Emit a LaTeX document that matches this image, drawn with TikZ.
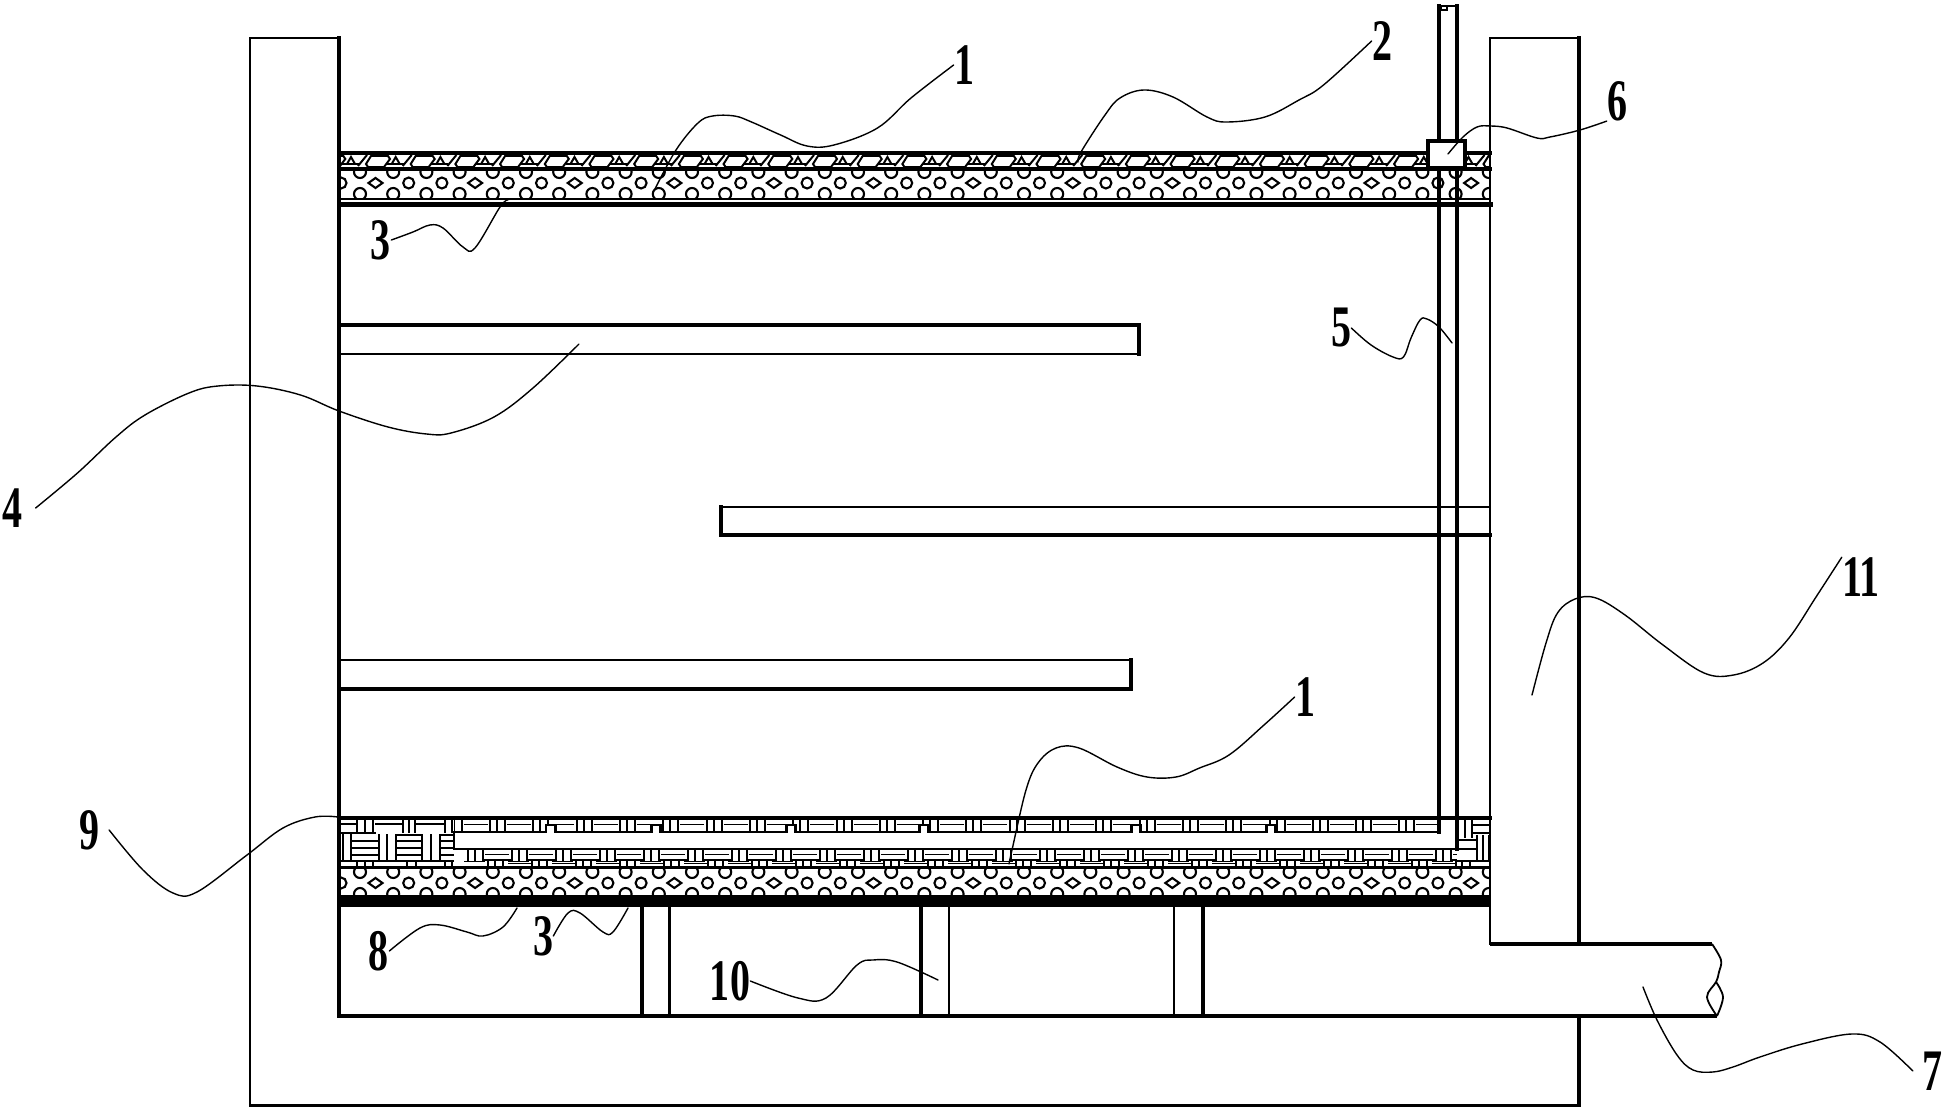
\documentclass[tikz,border=0pt]{standalone}
\usepackage{fontspec}
\usepackage{graphicx}
\setmainfont{Liberation Serif}
\tikzset{
  x=0.02cm,y=-0.02cm,
  px/.style={line width=#1*0.567pt},
  wall/.style={draw=black,line cap=rect},
  hatch/.style={draw=black,px=2.1},
  hatchb/.style={draw=black,px=2},
  leader/.style={draw=black,px=1.4,line cap=round,line join=round},
  lab/.style={inner sep=0pt,font=\fontsize{33.5}{34}\selectfont\bfseries,text=black}
}
\newcommand{\dg}[1]{\scalebox{0.68}[1]{#1}}
\begin{document}
\begin{tikzpicture}
\useasboundingbox (0,0) rectangle (1948,1111);
\fill[white] (0,0) rectangle (1948,1111);

% --- pebble layers ---
\begin{scope}
\clip (339,170) rectangle (1490,198);
\foreach \k in {0,...,34}{
  \pgfmathsetmacro{\a}{360+33.2*\k}
  \pgfmathsetmacro{\b}{375.5+33.2*\k}
  \draw[hatch] (\a,172) circle (6);
  \draw[hatch] (\a,194) circle (6);
  \pgfmathtruncatemacro{\m}{mod(\k,3)}
  \ifnum\m=0
    \draw[hatch] (\b-7,183) -- (\b,178) -- (\b+7,183) -- (\b,188) -- cycle;
  \else
    \draw[hatch] (\b,183) circle (5.5);
  \fi
}
\draw[hatch] (341,183) circle (5.5);
\end{scope}
\begin{scope}
\clip (339,868) rectangle (1490,895);
\foreach \k in {0,...,34}{
  \pgfmathsetmacro{\a}{360+33.2*\k}
  \pgfmathsetmacro{\b}{375.5+33.2*\k}
  \draw[hatch] (\a,872) circle (6);
  \draw[hatch] (\a,894) circle (6);
  \pgfmathtruncatemacro{\m}{mod(\k,3)}
  \ifnum\m=0
    \draw[hatch] (\b-7,883) -- (\b,878) -- (\b+7,883) -- (\b,888) -- cycle;
  \else
    \draw[hatch] (\b,883) circle (5.5);
  \fi
}
\draw[hatch] (341,883) circle (5.5);
\end{scope}

% --- stone layer ---
\begin{scope}
\clip (339,155) rectangle (1490,167);
\foreach \k in {-1,...,25}{
  \pgfmathsetmacro{\g}{355+44.7*\k}
  \draw[hatchb] (\g+11,164) -- (\g+16,156) -- (\g+33,156) -- (\g+35,159) -- (\g+29,167) -- (\g+13,167) -- cycle;
  \draw[hatchb] (\g+12,155) -- (\g+3,166);
  \draw[hatchb] (\g-8,164) -- (\g-4,157) -- (\g,164);
  \draw[hatchb] (\g-13,164) -- (\g+4,164);
}
\end{scope}

% --- woven layer: upper strip ---
\begin{scope}
\clip (454,819) rectangle (1439,832);
\foreach \k in {-4,...,18}{
  \pgfmathsetmacro{\q}{620+43.3*\k}
  \foreach \d in {0,7,15}{\draw[hatchb] (\q+\d,820) -- (\q+\d,832);}
  \draw[hatchb] (\q+17,824.5) -- (\q+41,824.5);
}
\end{scope}

% --- woven layer: lower strip ---
\begin{scope}
\clip (339,849) rectangle (1490,867);
\foreach \k in {-3,...,19}{
  \pgfmathsetmacro{\q}{600+44*\k}
  \foreach \d in {0,7,15}{\draw[hatchb] (\q+\d,850) -- (\q+\d,861);}
  \draw[hatchb] (\q+17,854.5) -- (\q+41,854.5);
  \draw[hatchb] (\q-4,861.5) -- (\q+17,861.5);
  \draw[hatchb] (\q+16,860) -- (\q+44,860);
  \foreach \d in {20,27,35}{\draw[hatchb] (\q+\d,860) -- (\q+\d,867);}
  \draw[hatchb] (\q+40,863.5) -- (\q+64,863.5);
}
\end{scope}

% --- woven layer: left block ---
\begin{scope}
\fill[white] (339,833) rectangle (454,868);
\clip (339,819) rectangle (454,867);
\foreach \p in {357,365,373,403,409,415,445,452}{\draw[hatchb] (\p,820) -- (\p,833);}
\draw[hatchb] (341,824) -- (357,824);
\draw[hatchb] (375,824) -- (403,824);
\draw[hatchb] (416,824) -- (445,824);
\foreach \p in {343,351,379,387,396,422,431,440}{\draw[hatchb] (\p,834) -- (\p,861);}
\draw[hatchb] (341,833) -- (376,833);
\draw[hatchb] (397,835) -- (422,835);
\draw[hatchb] (440,835) -- (454,835);
\foreach \yy in {841,848,855}{
  \draw[hatchb] (351,\yy) -- (379,\yy);
  \draw[hatchb] (396,\yy) -- (422,\yy);
  \draw[hatchb] (440,\yy) -- (454,\yy);
}
\draw[hatchb] (341,861) -- (454,861);
\foreach \p in {357,365,373,407,416,445,452}{\draw[hatchb] (\p,861) -- (\p,867);}
\end{scope}

% --- woven layer: right block ---
\begin{scope}
\fill[white] (1457,819) rectangle (1490,867);
\clip (1457,819) rectangle (1490,867);
\foreach \p in {1458,1465,1472}{\draw[hatchb] (\p,820) -- (\p,838);}
\draw[hatchb] (1473,825) -- (1490,825);
\draw[hatchb] (1473,833) -- (1490,833);
\draw[hatchb] (1458,840) -- (1476,840);
\draw[hatchb] (1456,849) -- (1476,849);
\foreach \p in {1477,1483,1489}{\draw[hatchb] (\p,835) -- (\p,862);}
\draw[hatchb] (1456,861) -- (1490,861);
\foreach \p in {1462,1470}{\draw[hatchb] (\p,861) -- (\p,867);}
\end{scope}

% --- layer boundaries ---
\draw[wall,px=4.5] (339,153) -- (1490,153);
\draw[wall,px=4.5] (339,169) -- (1490,169);
\draw[wall,px=2] (339,199) -- (1490,199);
\draw[wall,px=5] (339,204.5) -- (1490,204.5);
\draw[wall,px=4.5] (339,818) -- (1490,818);
\draw[wall,px=2.5] (339,867.5) -- (1490,867.5);
\fill[black] (339,895) rectangle (1490,907);
\draw[px=2.5,line join=miter] (1439,832) -- (454,832) -- (454,849) -- (1456,849);
\foreach \n in {545,650,785,918,1130,1265}{
  \fill[white] (\n,824) rectangle (\n+11,834);
  \draw[px=3,line join=miter] (\n-2,832) -- (\n+1,832) -- (\n+1,825) -- (\n+10,825) -- (\n+10,832) -- (\n+13,832);
}

% --- vent pipe 5 ---
\draw[wall,px=3.5] (1439,6) -- (1439,832);
\draw[wall,px=3.5] (1457,6) -- (1457,849);
\draw[px=2] (1439,6) -- (1457,6);
\draw[px=1.5] (1441,6.5) rectangle (1447,10);

% --- walls, floor, drain ---
\draw[wall,px=2] (250,38) -- (250,1105);
\draw[wall,px=3] (250,38) -- (339,38);
\draw[wall,px=3.5] (339,38) -- (339,1016);
\draw[wall,px=3] (250,1105) -- (1579,1105);
\draw[wall,px=2.5] (1490,38) -- (1490,944);
\draw[wall,px=3] (1490,38) -- (1579,38);
\draw[wall,px=3.5] (1579,38) -- (1579,944);
\draw[wall,px=3.5] (1579,1016) -- (1579,1105);
\draw[px=3.5] (1490,944) -- (1712,944);
\draw[px=3.5] (339,1016) -- (1717,1016);
\draw[px=1.8] plot[smooth,tension=.6] coordinates {(1712,944) (1721,960) (1719,972) (1716,982) (1707,997) (1717,1016)};
\draw[px=1.8] plot[smooth,tension=.6] coordinates {(1716,982) (1723,997) (1717,1016)};

% --- baffles ---
\draw[wall,px=4] (339,325) -- (1139,325);
\draw[wall,px=2] (339,354) -- (1139,354);
\draw[wall,px=4] (1139,325) -- (1139,354);
\draw[wall,px=2] (721,507) -- (1490,507);
\draw[wall,px=4] (721,535) -- (1490,535);
\draw[wall,px=4] (721,507) -- (721,535);
\draw[wall,px=2.5] (339,660) -- (1131,660);
\draw[wall,px=3.5] (339,689) -- (1131,689);
\draw[wall,px=4] (1131,660) -- (1131,689);

% --- supports 10 ---
\draw[px=4] (642,907) -- (642,1016);
\draw[px=4] (669.5,907) -- (669.5,1016);
\draw[px=4] (920.5,907) -- (920.5,1016);
\draw[px=2] (949,907) -- (949,1016);
\draw[px=2.5] (1174,907) -- (1174,1016);
\draw[px=4] (1203,907) -- (1203,1016);

% --- box 6 ---
\draw[px=4,fill=white] (1428,141) rectangle (1465,168);

% --- labels ---
\node[lab] (lA) at (964,65) {\dg{1}};
\node[lab] (lB) at (1382,41) {\dg{2}};
\node[lab] (lC) at (381,240) {\dg{3}};
\node[lab,inner xsep=7pt] (lD) at (13,508) {\dg{4}};
\node[lab] (lE) at (1341,328) {\dg{5}};
\node[lab] (lF) at (1617,101) {\dg{6}};
\node[lab,inner xsep=5pt] (lG) at (1932,1071) {\dg{7}};
\node[lab] (lH) at (379,951) {\dg{8}};
\node[lab,inner xsep=5pt] (lI) at (90,830) {\dg{9}};
\node[lab] (lJ) at (730,981) {\dg{10}};
\node[lab] (lK) at (1861,577) {\dg{11}};
\node[lab] (lL) at (1305,697) {\dg{1}};
\node[lab] (lM) at (543,936) {\dg{3}};

% --- leader ends ---
\coordinate (eA) at (655,189);
\coordinate (eB) at (1078,162);
\coordinate (eC) at (508,200);
\coordinate (eD) at (579,344);
\coordinate (eE) at (1452,343);
\coordinate (eF) at (1448,154);
\coordinate (eG) at (1643,987);
\coordinate (eH) at (517,908);
\coordinate (eI) at (338,817);
\coordinate (eJ) at (938,980);
\coordinate (eK) at (1532,695);
\coordinate (eL) at (1009,864);
\coordinate (eM) at (628,908);

% --- leaders ---
\draw[leader] plot[smooth,tension=.6] coordinates {(lA.west) (911,98) (877.5,128) (834,145) (807,146) (780.6,135) (751.5,122) (734.5,116) (712.7,116) (698,123) (676,150) (eA)};
\draw[leader] plot[smooth,tension=.6] coordinates {(lB.west) (1323.5,85) (1299,100) (1265,117) (1226.5,122) (1207,117) (1173,97) (1144,90) (1120,98) (1105,115) (1081,152) (eB)};
\draw[leader] plot[smooth,tension=.6] coordinates {(lC.east) (413,232) (430,225) (443,228) (463,247) (475,248) (500,207) (eC)};
\draw[leader] plot[smooth,tension=.6] coordinates {(lD.east) (77.5,473) (116,437) (145,415) (189,393) (218,386) (257,386) (300.5,395) (339,411) (388,427) (426.5,434) (451,433) (494,417) (533,388) (eD)};
\draw[leader] plot[smooth,tension=.6] coordinates {(lE.east) (1371,345) (1393,357) (1403.5,357) (1411,338) (1420,320) (1427,319) (1439,327) (eE)};
\draw[leader] plot[smooth,tension=.6] coordinates {(lF.south west) (1580,130) (1550,137) (1537,138) (1507,128) (1490,126) (1477,127) (1463,137) (eF)};
\draw[leader] plot[smooth,tension=.6] coordinates {(lG.west) (1880,1042) (1852,1034) (1802,1044) (1760,1057) (1733,1067) (1713,1072) (1693,1070) (1677,1055) (1657,1020) (eG)};
\draw[leader] plot[smooth,tension=.6] coordinates {(lH.east) (420,928) (440,925) (467,932) (483,936) (503,927) (eH)};
\draw[leader] plot[smooth,tension=.6] coordinates {(lI.east) (143,870) (173,893) (197,892) (247,855) (283,828) (315,817) (eI)};
\draw[leader] plot[smooth,tension=.6] coordinates {(lJ.east) (798,998) (826,998) (857,965) (873,960) (897,962) (eJ)};
\draw[leader] plot[smooth,tension=.6] coordinates {(lK.north west) (1816,597) (1789,638) (1763,663) (1733.6,675) (1704,673) (1663,645) (1625,615) (1596,598) (1575,599) (1557.5,613) (1546,643) (eK)};
\draw[leader] plot[smooth,tension=.6] coordinates {(lL.west) (1264,725) (1229,755) (1199.5,768) (1176,777) (1147,777) (1117,767) (1079,748) (1056,748) (1038,763) (1026,790) (1012,850) (eL)};
\draw[leader] plot[smooth,tension=.6] coordinates {(lM.east) (568,913) (580,913) (603,932) (613,932) (eM)};
\end{tikzpicture}
\end{document}
